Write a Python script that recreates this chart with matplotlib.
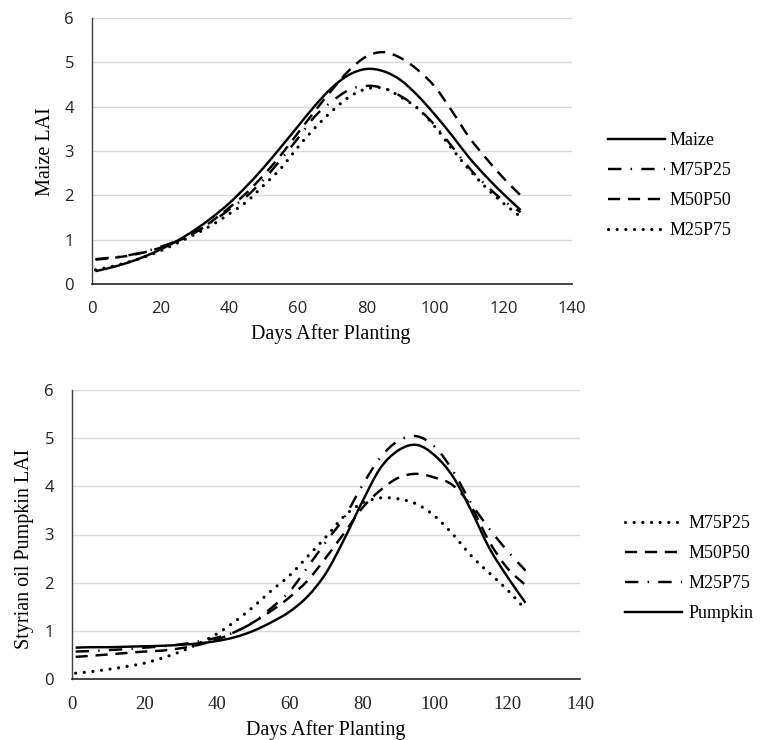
import matplotlib
matplotlib.use("Agg")
import numpy as np
import matplotlib.pyplot as plt
from matplotlib.path import Path
from matplotlib.patches import PathPatch
from matplotlib.lines import Line2D

# ---------------- data ----------------
days = [1, 5, 10, 15, 20, 25, 30, 35, 40, 45, 50, 55, 60, 65, 70, 75, 80, 85,
        90, 95, 100, 105, 110, 115, 120, 125]

# Top chart: Maize LAI
maize = [0.29, 0.36, 0.47, 0.61, 0.78, 0.98, 1.22, 1.50, 1.82, 2.20, 2.62, 3.08,
         3.55, 4.02, 4.43, 4.72, 4.85, 4.80, 4.60, 4.25, 3.82, 3.35, 2.85, 2.42,
         2.03, 1.67]
top_m75p25 = [0.56, 0.59, 0.64, 0.72, 0.84, 0.98, 1.16, 1.40, 1.68, 1.97, 2.35, 2.80,
              3.28, 3.78, 4.12, 4.38, 4.47, 4.42, 4.24, 3.97, 3.58, 3.10, 2.62, 2.22,
              1.88, 1.62]
top_m50p50 = [0.55, 0.58, 0.63, 0.71, 0.82, 0.97, 1.16, 1.42, 1.72, 2.05, 2.45, 2.90,
              3.40, 3.90, 4.38, 4.82, 5.13, 5.23, 5.10, 4.83, 4.45, 3.90, 3.31, 2.83,
              2.39, 2.00]
top_m25p75 = [0.32, 0.38, 0.48, 0.60, 0.75, 0.93, 1.12, 1.33, 1.58, 1.85, 2.22, 2.60,
              3.08, 3.52, 3.90, 4.22, 4.40, 4.42, 4.22, 3.96, 3.55, 3.05, 2.58, 2.17,
              1.82, 1.52]

# Bottom chart: Styrian oil Pumpkin LAI
bot_m75p25 = [0.12, 0.15, 0.20, 0.26, 0.33, 0.44, 0.57, 0.74, 0.94, 1.20, 1.50, 1.84,
              2.15, 2.55, 2.95, 3.38, 3.65, 3.76, 3.74, 3.63, 3.38, 3.00, 2.56, 2.20,
              1.85, 1.44]
bot_m50p50 = [0.46, 0.48, 0.51, 0.54, 0.57, 0.59, 0.64, 0.71, 0.82, 0.98, 1.18, 1.42,
              1.70, 2.05, 2.52, 3.03, 3.55, 3.92, 4.18, 4.26, 4.18, 4.02, 3.58, 2.85,
              2.30, 1.95]
bot_m25p75 = [0.57, 0.58, 0.60, 0.62, 0.65, 0.68, 0.72, 0.78, 0.86, 0.98, 1.18, 1.48,
              1.82, 2.33, 2.85, 3.35, 4.02, 4.60, 4.95, 5.04, 4.82, 4.32, 3.65, 3.12,
              2.66, 2.25]
pumpkin = [0.65, 0.66, 0.66, 0.67, 0.68, 0.69, 0.71, 0.74, 0.79, 0.87, 1.00, 1.18,
           1.40, 1.72, 2.20, 2.90, 3.68, 4.38, 4.75, 4.86, 4.64, 4.20, 3.50, 2.72,
           2.12, 1.58]

x_ticks = [0, 20, 40, 60, 80, 100, 120, 140]
y_ticks = [0, 1, 2, 3, 4, 5, 6]

top_labels = ["Maize", "M75P25", "M50P50", "M25P75"]
bot_labels = ["M75P25", "M50P50", "M25P75", "Pumpkin"]

# ---------------- styles ----------------
LW = 1.75
SOLID = dict(linestyle="-", linewidth=LW)
DASHDOT = dict(linestyle=(0, (5.5, 3.8, 0.6, 3.8)), linewidth=LW)
DASHED = dict(linestyle=(0, (5.0, 3.2)), linewidth=LW)
DOTTED = dict(linestyle=(0, (0.01, 2.7)), linewidth=2.3)

SERIF = "Liberation Serif"
SANS = "Open Sans"

W, H = 763, 740
fig = plt.figure(figsize=(W / 100, H / 100), dpi=100)


def make_axes(l, t, r, b):
    return fig.add_axes([l / W, 1 - b / H, (r - l) / W, (b - t) / H])


def smooth_line(ax, x, y, style, round_cap=False):
    """Draw a smoothed (Excel-like) line through the data points."""
    P = np.column_stack([x, y]).astype(float)
    n = len(P)
    verts = [P[0]]
    codes = [Path.MOVETO]
    for i in range(n - 1):
        p0 = P[i - 1] if i > 0 else P[i]
        p1, p2 = P[i], P[i + 1]
        p3 = P[i + 2] if i + 2 < n else P[i + 1]
        verts += [p1 + (p2 - p0) / 6.0, p2 - (p3 - p1) / 6.0, p2]
        codes += [Path.CURVE4] * 3
    patch = PathPatch(Path(verts, codes), fill=False, edgecolor="black",
                      linestyle=style["linestyle"], linewidth=style["linewidth"],
                      capstyle="round" if round_cap else "butt", joinstyle="round")
    ax.add_patch(patch)
    handle = Line2D([], [], color="black", linestyle=style["linestyle"],
                    linewidth=style["linewidth"],
                    dash_capstyle="round" if round_cap else "butt")
    return handle


def style_axes(ax, xtick_font, xtick_size):
    ax.set_xlim(0, 140)
    ax.set_ylim(0, 6)
    ax.set_xticks(x_ticks)
    ax.set_yticks(y_ticks)
    ax.grid(axis="y", color="#d9d9d9", linewidth=1.0)
    ax.set_axisbelow(True)
    for s in ("top", "right"):
        ax.spines[s].set_visible(False)
    ax.spines["left"].set_color("#404040")
    ax.spines["left"].set_linewidth(1.0)
    ax.spines["bottom"].set_color("#262626")
    ax.spines["bottom"].set_linewidth(1.2)
    ax.tick_params(axis="both", length=0)
    ax.tick_params(axis="y", pad=13)
    ax.tick_params(axis="x", pad=12)
    for lab in ax.get_yticklabels():
        lab.set_fontfamily(SANS)
        lab.set_fontsize(12)
        lab.set_color("#222222")
    for lab in ax.get_xticklabels():
        lab.set_fontfamily(xtick_font)
        lab.set_fontsize(xtick_size)
        lab.set_color("#222222")


leg_kw = dict(frameon=False, prop=dict(family=SERIF, size=13), handlelength=3.15,
              labelspacing=0.72, borderpad=0, borderaxespad=0)

# ---------------- top chart ----------------
ax1 = make_axes(92, 18, 572, 284)
h1 = smooth_line(ax1, days, maize, SOLID)
h2 = smooth_line(ax1, days, top_m75p25, DASHDOT)
h3 = smooth_line(ax1, days, top_m50p50, DASHED)
h4 = smooth_line(ax1, days, top_m25p75, DOTTED, round_cap=True)
style_axes(ax1, SANS, 12)
fig.text(45 / W, 1 - 152 / H, "Maize LAI", rotation=90, ha="center", va="center",
         family=SERIF, fontsize=14.5)
fig.text(331 / W, 1 - 334 / H, "Days After Planting", ha="center", va="center",
         family=SERIF, fontsize=14.5)
fig.legend([h1, h2, h3, h4], top_labels, loc="center left",
           bbox_to_anchor=(608 / W, 1 - 185.5 / H), handletextpad=0.25, **leg_kw)

# ---------------- bottom chart ----------------
ax2 = make_axes(72, 390, 580, 679)
g1 = smooth_line(ax2, days, bot_m75p25, DOTTED, round_cap=True)
g2 = smooth_line(ax2, days, bot_m50p50, DASHED)
g3 = smooth_line(ax2, days, bot_m25p75, DASHDOT)
g4 = smooth_line(ax2, days, pumpkin, SOLID)
style_axes(ax2, SERIF, 13.5)
fig.text(25 / W, 1 - 549 / H, "Styrian oil Pumpkin LAI", rotation=90, ha="center",
         va="center", family=SERIF, fontsize=14.5)
fig.text(326 / W, 1 - 730 / H, "Days After Planting", ha="center", va="center",
         family=SERIF, fontsize=14.5)
fig.legend([g1, g2, g3, g4], bot_labels, loc="center left",
           bbox_to_anchor=(625 / W, 1 - 568.5 / H), handletextpad=0.35, **leg_kw)

fig.savefig("out.png", dpi=100)
